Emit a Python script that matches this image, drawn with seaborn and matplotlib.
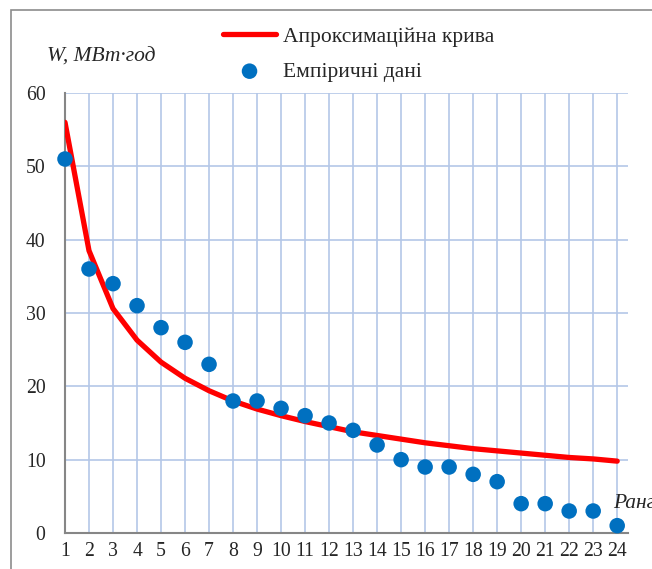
import matplotlib
matplotlib.use('Agg')
import matplotlib.pyplot as plt
import seaborn as sns
from matplotlib.patches import Rectangle

# ранги та значення
rang = list(range(1, 25))
empirychni = [51, 36, 34, 31, 28, 26, 23, 18, 18, 17, 16, 15, 14, 12, 10, 9, 9, 8, 7, 4, 4, 3, 3, 1]
aproksymatsiia = [56.0, 38.5, 30.6, 26.3, 23.3, 21.1, 19.4, 18.0, 16.9, 16.0, 15.2, 14.5,
                  13.8, 13.3, 12.8, 12.3, 11.9, 11.5, 11.2, 10.9, 10.6, 10.3, 10.1, 9.8]
y_ticks = [0, 10, 20, 30, 40, 50, 60]

sns.set_style('white')
plt.rcParams['font.family'] = ['Liberation Serif', 'DejaVu Serif']

fig = plt.figure(figsize=(6.52, 5.69), dpi=100)
fig.patches.append(Rectangle((11 / 652, -0.1), 1.2, 1 - 10 / 569 + 0.1, transform=fig.transFigure,
                             fill=False, edgecolor='#8c8c8c', linewidth=1.2))
ax = fig.add_axes([65 / 652, 1 - 533 / 569, (628 - 65) / 652, (533 - 93) / 569])

sns.lineplot(x=rang, y=aproksymatsiia, ax=ax, color='#ff0000', linewidth=3.8,
             label='Апроксимаційна крива', zorder=3)
sns.scatterplot(x=rang, y=empirychni, ax=ax, color='#0070c0', s=125, edgecolor='none',
                label='Емпіричні дані', zorder=4, clip_on=False)

ax.set_xlim(1, 24.45)
ax.set_ylim(0, 60)
ax.set_xticks(rang)
ax.set_xticklabels([str(r) for r in rang])
ax.set_yticks(y_ticks)
ax.grid(True, color='#b4c7e7', linewidth=1.2)
ax.set_axisbelow(True)
for s in ['top', 'right']:
    ax.spines[s].set_visible(False)
for s in ['left', 'bottom']:
    ax.spines[s].set_color('#868686')
    ax.spines[s].set_linewidth(1.5)
ax.tick_params(axis='x', direction='inout', length=9, width=1.5, color='#868686', labelsize=14.2, pad=2)
ax.tick_params(axis='y', direction='out', length=6, width=1.5, color='#868686', labelsize=14.2, pad=8)
ax.set_xlabel('')
ax.set_ylabel('')

fig.text(47 / 652, 1 - 57 / 569, 'W, МВт·год', fontsize=15.5, style='italic', va='center')
fig.text(613 / 652, 1 - 503 / 569, 'Ранг', fontsize=15.5, style='italic', va='center')

leg = ax.legend(loc='upper left', bbox_to_anchor=(214 / 652, 1 - 18 / 569), bbox_transform=fig.transFigure,
                frameon=False, fontsize=15.5, handlelength=2.5, labelspacing=0.7, handletextpad=0.3,
                borderaxespad=0)

fig.savefig('out.png', dpi=100)
